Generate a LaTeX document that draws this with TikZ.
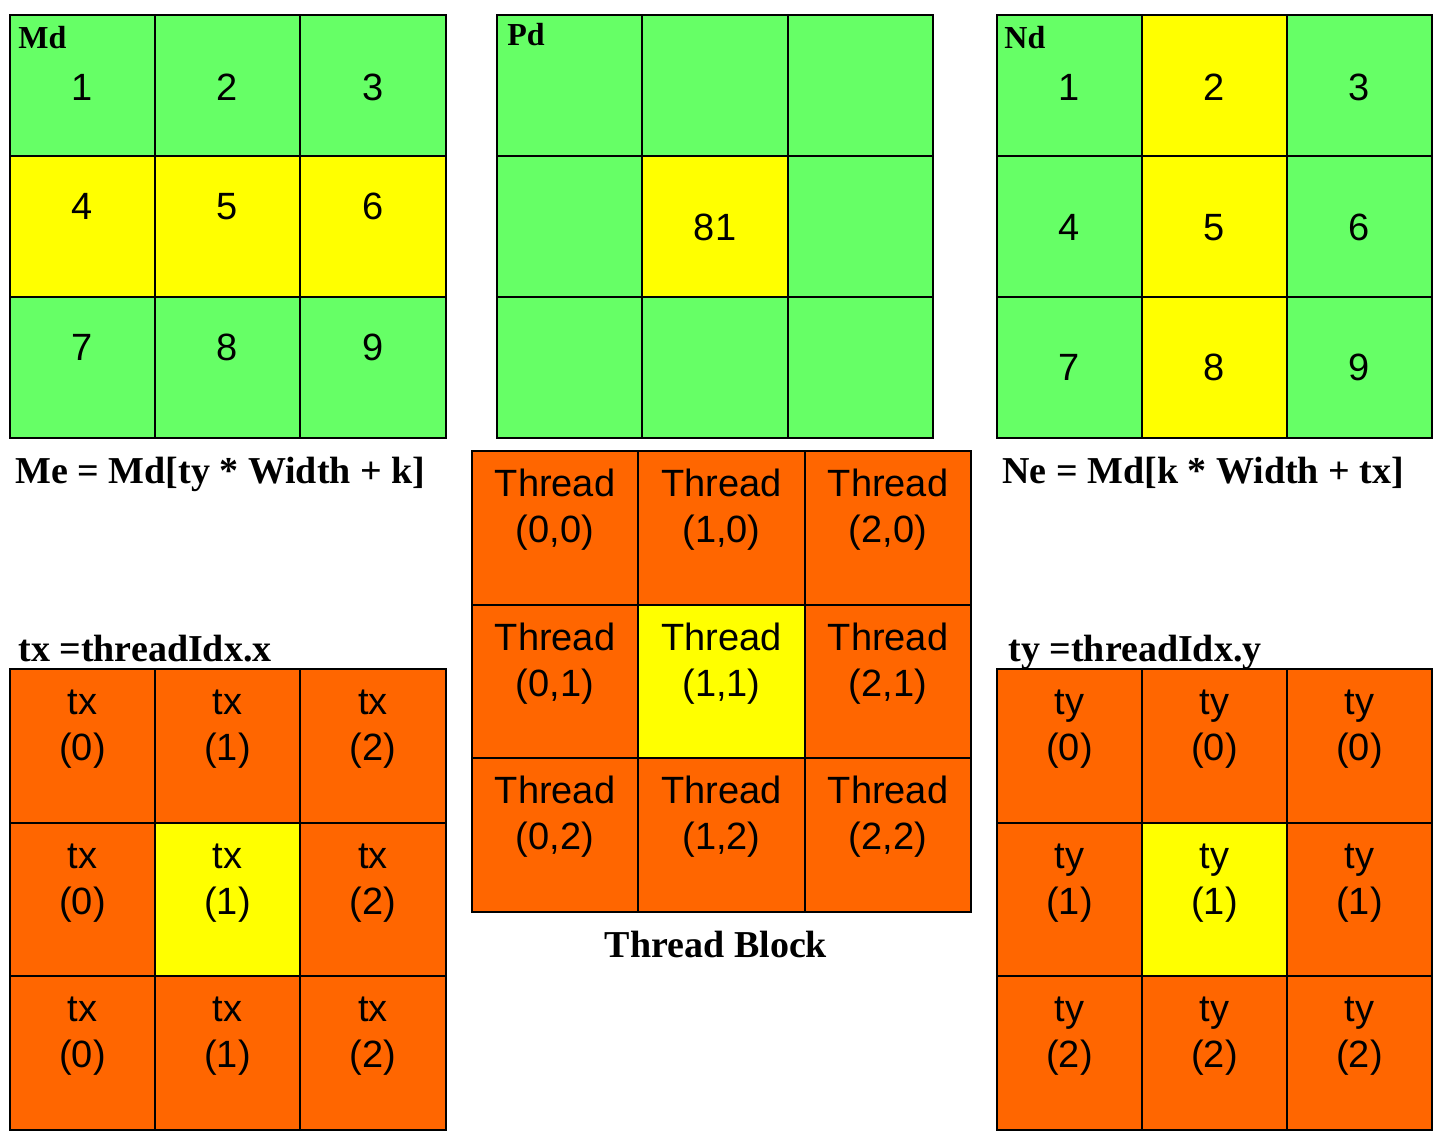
\documentclass[tikz,border=0pt]{standalone}
\usepackage{fontspec}
\setmainfont{Liberation Serif}
\setsansfont{Liberation Sans}
\usetikzlibrary{positioning}
\definecolor{leaf}{HTML}{66FF66}
\definecolor{hilite}{HTML}{FFFF00}
\definecolor{brick}{HTML}{FF6600}

\begin{document}
\begin{tikzpicture}[x=0.5pt,y=-0.5pt,
  grid/.style={draw=black,line width=1pt},
  num/.style={font=\sffamily\fontsize{19}{23}\selectfont,anchor=base,align=center,inner sep=0pt},
  tag/.style={font=\bfseries\fontsize{16}{19}\selectfont,anchor=base west,inner sep=0pt},
  caption/.style={font=\bfseries\fontsize{19}{23}\selectfont,anchor=base west,inner sep=0pt}]
\useasboundingbox (0,0) rectangle (1446,1137);

% Md
\fill[leaf] (10,15) rectangle (446,438);
\fill[hilite] (10,156) rectangle (446,297);
\draw[grid] (10,15) rectangle (446,438) (155,15) -- (155,438) (300,15) -- (300,438)
  (10,156) -- (446,156) (10,297) -- (446,297);
\node[tag] (mdtag) at (18,48) {Md};
\foreach \n/\x/\y in {1/82.5/100,2/227.5/100,3/373/100,4/82.5/219,5/227.5/219,6/373/219,7/82.5/360,8/227.5/360,9/373/360}
  \node[num] (md\n) at (\x,\y) {\n};
\node[caption] (me) at (15,483) {Me = Md[ty * Width + k]};

% Pd
\fill[leaf] (497,15) rectangle (933,438);
\fill[hilite] (642,156) rectangle (788,297);
\draw[grid] (497,15) rectangle (933,438) (642,15) -- (642,438) (788,15) -- (788,438)
  (497,156) -- (933,156) (497,297) -- (933,297);
\node[tag] (pdtag) at (507,45) {Pd};
\node[num] (pd) at (715,240) {81};

% Nd
\fill[leaf] (997,15) rectangle (1432,438);
\fill[hilite] (1142,15) rectangle (1287,438);
\draw[grid] (997,15) rectangle (1432,438) (1142,15) -- (1142,438) (1287,15) -- (1287,438)
  (997,156) -- (1432,156) (997,297) -- (1432,297);
\node[tag] (ndtag) at (1004,48) {Nd};
\foreach \n/\x/\y in {1/1069.5/100,2/1214.5/100,3/1359.5/100,4/1069.5/240,5/1214.5/240,6/1359.5/240,7/1069.5/380,8/1214.5/380,9/1359.5/380}
  \node[num] (nd\n) at (\x,\y) {\n};
\node[caption] (ne) at (1002,483) {Ne = Md[k * Width + tx]};

% thread block
\fill[brick] (472,451) rectangle (971,912);
\fill[hilite] (638,605) rectangle (805,758);
\draw[grid] (472,451) rectangle (971,912) (638,451) -- (638,912) (805,451) -- (805,912)
  (472,605) -- (971,605) (472,758) -- (971,758);
\foreach \c/\x in {0/555,1/721.5,2/888}
  \foreach \r/\y in {0/542,1/696,2/849}
    \node[num] (th\c\r) at (\x,\y) {Thread\\(\c,\r)};
\node[caption,anchor=base] (block) at (716,957) {Thread Block};

% tx
\node[caption] (txtag) at (18,661) {tx =threadIdx.x};
\fill[brick] (10,669) rectangle (446,1130);
\fill[hilite] (155,823) rectangle (300,976);
\draw[grid] (10,669) rectangle (446,1130) (155,669) -- (155,1130) (300,669) -- (300,1130)
  (10,823) -- (446,823) (10,976) -- (446,976);
\foreach \c/\x in {0/82.5,1/227.5,2/373}
  \foreach \r/\y in {0/760,1/914,2/1067}
    \node[num] (tx\c\r) at (\x,\y) {tx\\(\c)};

% ty
\node[caption] (tytag) at (1008,661) {ty =threadIdx.y};
\fill[brick] (997,669) rectangle (1432,1130);
\fill[hilite] (1142,823) rectangle (1287,976);
\draw[grid] (997,669) rectangle (1432,1130) (1142,669) -- (1142,1130) (1287,669) -- (1287,1130)
  (997,823) -- (1432,823) (997,976) -- (1432,976);
\foreach \c/\x in {0/1069.5,1/1214.5,2/1359.5}
  \foreach \r/\y in {0/760,1/914,2/1067}
    \node[num] (ty\c\r) at (\x,\y) {ty\\(\r)};
\end{tikzpicture}
\end{document}
